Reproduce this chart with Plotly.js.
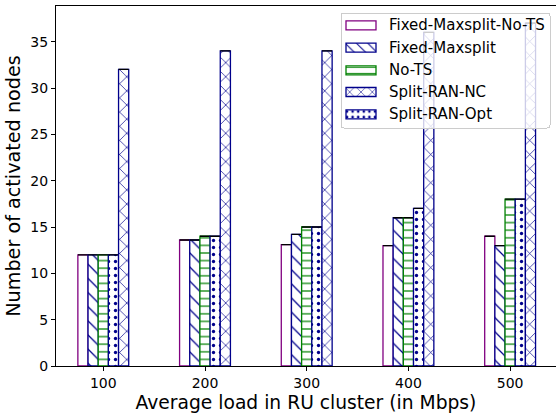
<!DOCTYPE html>
<html>
<head>
<meta charset="utf-8">
<script src="https://cdn.plot.ly/plotly-3.0.1.min.js"></script>
<style>
  html, body { margin: 0; padding: 0; background: #fff; overflow: hidden; }
  #chart { width: 556px; height: 417px; }
</style>
</head>
<body>
<div id="chart"></div>
<script>
// Average load per RU cluster (Mbps)
const loads = [100, 200, 300, 400, 500];

// Number of activated nodes for each scheme
const fixedMaxsplitNoTS = [12, 13.6, 13.1, 13, 14];
const fixedMaxsplit     = [12, 13.6, 14.2, 16, 13];
const noTS              = [12, 14, 15, 16, 18];
const splitRanOpt       = [12, 14, 15, 17, 18];
const splitRanNC        = [32, 34, 34, 36, 37];

const yTicks = [0, 5, 10, 15, 20, 25, 30, 35];

const NAVY = '#00008b';
const GREEN = '#008000';
const PURPLE = '#800080';

// flat black cap on top of each bar
const cap = { type: 'constant', value: 0, width: 5, thickness: 1.3, color: '#000' };

function barTrace(name, values, edge, pattern, rank) {
  return {
    type: 'bar',
    name: name,
    x: loads,
    y: values,
    legendrank: rank,
    marker: {
      color: '#ffffff',
      line: { color: edge, width: 1.3 },
      pattern: pattern
    },
    error_y: cap,
    hoverinfo: 'x+y+name'
  };
}

const traces = [
  barTrace('Fixed-Maxsplit-No-TS', fixedMaxsplitNoTS, PURPLE,
           { shape: '', bgcolor: '#ffffff' }, 1),
  barTrace('Fixed-Maxsplit', fixedMaxsplit, NAVY,
           { shape: '\\', fgcolor: NAVY, bgcolor: '#ffffff', size: 10, solidity: 0.13 }, 2),
  barTrace('No-TS', noTS, GREEN,
           { shape: '-', fgcolor: GREEN, bgcolor: '#ffffff', size: 7.6, solidity: 0.16 }, 3),
  barTrace('Split-RAN-Opt', splitRanOpt, NAVY,
           { shape: '.', fgcolor: NAVY, bgcolor: '#ffffff', size: 7, solidity: 0.18 }, 5),
  barTrace('Split-RAN-NC', splitRanNC, NAVY,
           { shape: 'x', fgcolor: NAVY, bgcolor: '#ffffff', size: 10, solidity: 0.13 }, 4)
];

const FONT = 'DejaVu Sans, sans-serif';

const layout = {
  width: 556,
  height: 417,
  margin: { l: 56, r: 0, t: 6, b: 51 },
  paper_bgcolor: '#ffffff',
  plot_bgcolor: '#ffffff',
  font: { family: FONT, color: '#000', size: 14 },
  barmode: 'group',
  bargap: 0.5,
  bargroupgap: 0,
  showlegend: true,
  legend: {
    x: 0.57, y: 0.98, xanchor: 'left', yanchor: 'top',
    bgcolor: 'rgba(255,255,255,0.8)',
    bordercolor: '#cccccc', borderwidth: 1,
    font: { family: FONT, size: 15, color: '#000' },
    tracegroupgap: 0,
    itemwidth: 30
  },
  xaxis: {
    type: 'linear',
    range: [53.5, 545.1],
    tickvals: loads,
    ticktext: loads.map(String),
    ticks: 'outside', ticklen: 4, tickwidth: 1, tickcolor: '#000',
    showgrid: false, zeroline: false,
    showline: true, linecolor: '#000', linewidth: 1, mirror: true,
    tickfont: { family: FONT, size: 14 },
    title: { text: 'Average load in RU cluster (in Mbps)', font: { family: FONT, size: 18.7 }, standoff: 6 }
  },
  yaxis: {
    range: [0, 38.85],
    tickvals: yTicks,
    ticks: 'outside', ticklen: 4, tickwidth: 1, tickcolor: '#000',
    showgrid: false, zeroline: false,
    showline: true, linecolor: '#000', linewidth: 1,
    tickfont: { family: FONT, size: 14 },
    title: { text: 'Number of activated nodes', font: { family: FONT, size: 19.2 }, standoff: 4 }
  }
};

// Legend geometry (page pixels)
const LEG_BOX = { left: 341, right: 550, top: 13, bottom: 128 };
const LEG_ROWS = [24.3, 46.7, 69.3, 91, 113.3];
const LEG_TEXT_LEFT = 389;
const LEG_SWATCH = { left: 346, right: 376, height: 9 };

function shiftTransform(el, dx, dy) {
  const tr = el.getAttribute('transform') || '';
  const m = /translate\(\s*([-\d.eE]+)[\s,]+([-\d.eE]+)\s*\)/.exec(tr);
  const x = m ? parseFloat(m[1]) : 0;
  const y = m ? parseFloat(m[2]) : 0;
  el.setAttribute('transform', 'translate(' + (x + dx) + ',' + (y + dy) + ')');
}

function layoutLegend(gd) {
  const legend = gd.querySelector('.legend');
  if (!legend) return;
  const box = gd.getBoundingClientRect();
  legend.querySelectorAll('.scrollbox').forEach(function (s) { s.removeAttribute('clip-path'); });

  const rows = Array.from(legend.querySelectorAll('g.traces'));
  rows.sort(function (a, b) { return a.getBoundingClientRect().top - b.getBoundingClientRect().top; });
  rows.forEach(function (g, i) {
    const t = g.querySelector('text.legendtext');
    const r = t.getBoundingClientRect();
    const dx = LEG_TEXT_LEFT - (r.left - box.left);
    const dy = LEG_ROWS[i] - (r.top - box.top + r.height / 2) + 1;
    shiftTransform(g, dx, dy);

    // wide, flat swatch ending a little before the label
    const p = g.querySelector('.legendpoints path');
    if (p) {
      const h = LEG_SWATCH.height / 2;
      const w = (LEG_SWATCH.right - LEG_SWATCH.left) / 2;
      p.setAttribute('d', 'M-' + w + ',' + h + 'H' + w + 'V-' + h + 'H-' + w + 'Z');
      p.removeAttribute('transform');
      const pr = p.getBoundingClientRect();
      const tr2 = t.getBoundingClientRect();
      const pdx = LEG_SWATCH.left - (pr.left - box.left);
      const pdy = (tr2.top + tr2.height / 2) - (pr.top + pr.height / 2);
      p.setAttribute('transform', 'translate(' + pdx + ',' + pdy + ')');
    }
  });

  const bg = legend.querySelector('rect.bg');
  if (bg) {
    const br = bg.getBoundingClientRect();
    const x0 = parseFloat(bg.getAttribute('x') || 0);
    const y0 = parseFloat(bg.getAttribute('y') || 0);
    bg.setAttribute('x', x0 + (LEG_BOX.left - (br.left - box.left)));
    bg.setAttribute('y', y0 + (LEG_BOX.top - (br.top - box.top)));
    bg.setAttribute('width', LEG_BOX.right - LEG_BOX.left);
    bg.setAttribute('height', LEG_BOX.bottom - LEG_BOX.top);
    bg.setAttribute('rx', 3);
    bg.setAttribute('ry', 3);
  }
}

Plotly.newPlot('chart', traces, layout, { displayModeBar: false, staticPlot: true })
  .then(layoutLegend);
</script>
</body>
</html>
